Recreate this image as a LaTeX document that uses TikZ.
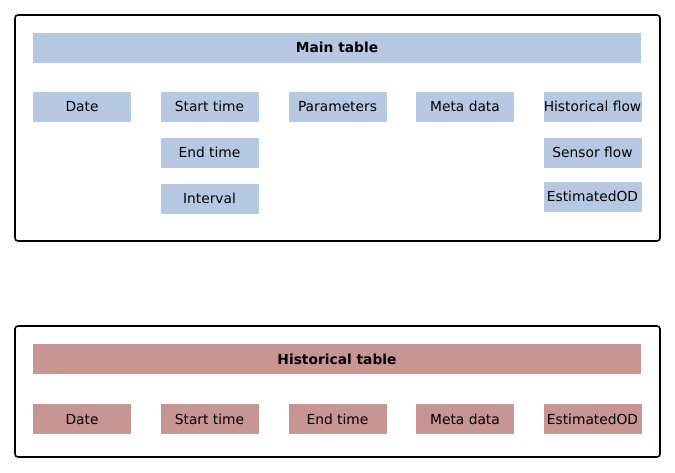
\documentclass[tikz,border=0pt]{standalone}
\usepackage{fontspec}
\setmainfont{DejaVu Sans}
\definecolor{mblue}{HTML}{B7C9E2}
\definecolor{hred}{HTML}{C79593}
\begin{document}
\begin{tikzpicture}[x=1pt,y=-1pt,
  outer/.style={draw=black, line width=1.6pt, rounded corners=3pt, inner sep=0pt},
  cell/.style={rectangle, inner sep=0pt, minimum width=98pt, minimum height=30pt, text height=10pt, text depth=0pt, font=\fontsize{13.8}{16}\selectfont},
  hdr/.style={rectangle, inner sep=0pt, minimum width=608pt, minimum height=30pt, text height=10pt, text depth=0pt, font=\fontsize{13.8}{16}\selectfont\bfseries},
  bcell/.style={cell, fill=mblue},
  rcell/.style={cell, fill=hred},
  bhdr/.style={hdr, fill=mblue},
  rhdr/.style={hdr, fill=hred}]
\useasboundingbox (0,0) rectangle (675,473);
% main table
\node[outer, minimum width=645pt, minimum height=226pt] (mainbox) at (337.5,128) {};
\node[bhdr] (mainhdr) at (337,48) {Main table};
\node[bcell] (mdate) at (82,107) {Date};
\node[bcell] (mstart) at (209.5,107) {Start time};
\node[bcell] (mend) at (209.5,153) {End time};
\node[bcell] (minterval) at (209.5,199) {Interval};
\node[bcell] (mparam) at (337.5,107) {Parameters};
\node[bcell] (mmeta) at (465,107) {Meta data};
\node[bcell] (mhist) at (592.5,107) {Historical flow};
\node[bcell] (msensor) at (592.5,153) {Sensor flow};
\node[bcell] (mest) at (592.5,197) {EstimatedOD};
% historical table
\node[outer, minimum width=645pt, minimum height=131pt] (histbox) at (337.5,391.5) {};
\node[rhdr] (histhdr) at (337,359) {Historical table};
\node[rcell] (hdate) at (82,419) {Date};
\node[rcell] (hstart) at (209.5,419) {Start time};
\node[rcell] (hend) at (337.5,419) {End time};
\node[rcell] (hmeta) at (465,419) {Meta data};
\node[rcell] (hest) at (592.5,419) {EstimatedOD};
\end{tikzpicture}
\end{document}
